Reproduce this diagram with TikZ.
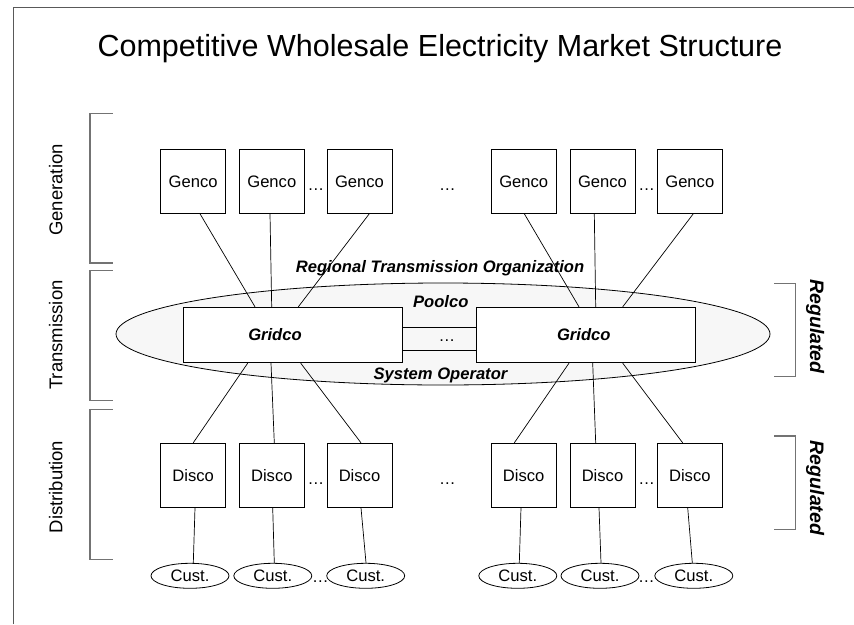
\documentclass[tikz,border=0pt]{standalone}
\usepackage{fontspec}
\setmainfont{Liberation Sans}
\usetikzlibrary{shapes.geometric}
\newcommand\normsz{\fontsize{16.6}{19}\selectfont}
\newcommand\bisz{\fontsize{16.6}{19}\selectfont\bfseries\itshape}
\begin{document}
\begin{tikzpicture}[x=1pt,y=-1pt,
  box/.style={draw, line width=0.9pt, minimum width=65pt, minimum height=64pt, inner sep=0pt, font=\normsz, fill=white},
  gridbox/.style={draw, line width=0.9pt, minimum width=219.4pt, minimum height=55.4pt, inner sep=0pt, fill=white},
  cust/.style={draw, ellipse, line width=0.8pt, minimum width=78pt, minimum height=25pt, inner sep=0pt, font=\normsz},
  conn/.style={line width=0.7pt},
  brack/.style={draw=black!55, line width=1.2pt},
  txt/.style={inner sep=0pt, anchor=base, font=\normsz},
  bitxt/.style={inner sep=0pt, anchor=base, font=\bisz},
  dots/.style={inner sep=0pt, anchor=base, font=\normsz}]
\useasboundingbox (0,0) rectangle (854,624);
% frame
\draw[draw=black!65, line width=1pt] (13.3,624) -- (13.3,7.3) -- (854,7.3);
% title
\node[inner sep=0pt, anchor=base, font=\fontsize{30.5}{35}\selectfont] (title) at (440,56.7) {Competitive Wholesale Electricity Market Structure};
% left brackets
\draw[brack] (112.7,113.3) -- (90,113.3) -- (90,263) -- (112.7,263);
\draw[brack] (112.7,270.7) -- (90,270.7) -- (90,400.7) -- (112.7,400.7);
\draw[brack] (112.7,409.3) -- (90,409.3) -- (90,559.3) -- (112.7,559.3);
\node[txt, rotate=90, font=\fontsize{18.5}{22}\selectfont] (lgen) at (62.3,190) {Generation};
\node[txt, rotate=90, font=\fontsize{18.5}{22}\selectfont] (ltra) at (62.3,335) {Transmission};
\node[txt, rotate=90, font=\fontsize{18.5}{22}\selectfont] (ldis) at (62.3,487) {Distribution};
% right brackets
\draw[brack] (774,283.3) -- (795.7,283.3) -- (795.7,376.7) -- (774,376.7);
\draw[brack] (774,436) -- (795.7,436) -- (795.7,529.3) -- (774,529.3);
\node[bitxt, rotate=-90, font=\fontsize{19.5}{23}\selectfont\bfseries\itshape] (reg1) at (810,326.5) {Regulated};
\node[bitxt, rotate=-90, font=\fontsize{19.5}{23}\selectfont\bfseries\itshape] (reg2) at (810,488) {Regulated};
% RTO ellipse
\node[draw, ellipse, line width=0.8pt, fill=black!3, minimum width=654pt, minimum height=102pt, inner sep=0pt] (rto) at (443,334) {};
% gridcos
\node[gridbox] (gl) at (293,335) {};
\node[gridbox] (gr) at (585.7,335) {};
\node[inner sep=0pt, font=\bisz] (gltxt) at (275,335) {Gridco};
\node[inner sep=0pt, font=\bisz] (grtxt) at (583.8,335) {Gridco};
\draw[conn] ([yshift=7.5pt]gl.east) -- ([yshift=7.5pt]gr.west);
\draw[conn] ([yshift=-15pt]gl.east) -- ([yshift=-15pt]gr.west);
\node[dots] (dgrid) at (447,341) {\dots};
\node[bitxt] (rtotxt) at (440,272.7) {Regional Transmission Organization};
\node[bitxt] (pool) at (440.8,307.3) {Poolco};
\node[bitxt] (sysop) at (440.5,379.3) {System Operator};
% gencos
\node[box] (g1) at (193.2,181.3) {Genco};
\node[box] (g2) at (271.8,181.3) {Genco};
\node[box] (g3) at (359.5,181.3) {Genco};
\node[box] (g4) at (523.7,181.3) {Genco};
\node[box] (g5) at (602.5,181.3) {Genco};
\node[box] (g6) at (689.8,181.3) {Genco};
\node[dots] (dg1) at (316,190) {\dots};
\node[dots] (dg2) at (447.5,190) {\dots};
\node[dots] (dg3) at (646.7,190) {\dots};
% discos
\node[box] (d1) at (193.2,475.3) {Disco};
\node[box] (d2) at (271.8,475.3) {Disco};
\node[box] (d3) at (359.5,475.3) {Disco};
\node[box] (d4) at (523.7,475.3) {Disco};
\node[box] (d5) at (602.5,475.3) {Disco};
\node[box] (d6) at (689.8,475.3) {Disco};
\node[dots] (dd1) at (316,484) {\dots};
\node[dots] (dd2) at (447.5,484) {\dots};
\node[dots] (dd3) at (646.7,484) {\dots};
% customers
\node[cust] (c1) at (190,575.8) {Cust.};
\node[cust] (c2) at (272.8,575.8) {Cust.};
\node[cust] (c3) at (365.7,575.8) {Cust.};
\node[cust] (c4) at (517.8,575.8) {Cust.};
\node[cust] (c5) at (600,575.8) {Cust.};
\node[cust] (c6) at (693.8,575.8) {Cust.};
\node[dots] (dc1) at (320.5,582.5) {\dots};
\node[dots] (dc2) at (646.5,582.5) {\dots};
% genco -> gridco
\draw[conn] ([xshift=6.8pt]g1.south) -- ([xshift=-38pt]gl.north);
\draw[conn] ([xshift=-1.8pt]g2.south) -- ([xshift=-21.3pt]gl.north);
\draw[conn] ([xshift=9.8pt]g3.south) -- ([xshift=5.3pt]gl.north);
\draw[conn] ([xshift=0.6pt]g4.south) -- ([xshift=-6.7pt]gr.north);
\draw[conn] ([xshift=-8.2pt]g5.south) -- ([xshift=10pt]gr.north);
\draw[conn] ([xshift=3.5pt]g6.south) -- ([xshift=37pt]gr.north);
% gridco -> disco
\draw[conn] ([xshift=-45.3pt]gl.south) -- (d1.north);
\draw[conn] ([xshift=-22pt]gl.south) -- ([xshift=2.5pt]d2.north);
\draw[conn] ([xshift=7.7pt]gl.south) -- ([xshift=1.5pt]d3.north);
\draw[conn] ([xshift=-16.7pt]gr.south) -- ([xshift=-9.4pt]d4.north);
\draw[conn] ([xshift=7pt]gr.south) -- ([xshift=-6.8pt]d5.north);
\draw[conn] ([xshift=37pt]gr.south) -- ([xshift=-7.1pt]d6.north);
% disco -> cust
\draw[conn] ([xshift=1.8pt]d1.south) -- ([xshift=3.3pt]c1.north);
\draw[conn] ([xshift=0.9pt]d2.south) -- ([xshift=1.5pt]c2.north);
\draw[conn] ([xshift=1.5pt]d3.south) -- ([xshift=0.3pt]c3.north);
\draw[conn] ([xshift=-2.7pt]d4.south) -- ([xshift=1.5pt]c4.north);
\draw[conn] ([xshift=-3.5pt]d5.south) -- ([xshift=1pt]c5.north);
\draw[conn] ([xshift=-2.1pt]d6.south) -- ([xshift=-1.5pt]c6.north);
\end{tikzpicture}
\end{document}
